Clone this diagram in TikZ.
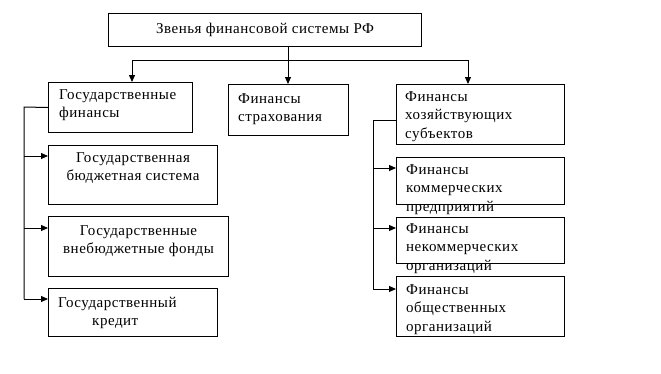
\documentclass[tikz,border=0pt]{standalone}
\usepackage{fontspec}
\setmainfont[LetterSpace=3.5]{Liberation Serif}
\usetikzlibrary{positioning,arrows.meta}

\begin{document}
\begin{tikzpicture}[
    x=1pt, y=-1pt,
    box/.style={
        draw,
        line width=1pt,
        anchor=north west,
        inner sep=0pt
    },
    txt/.style={
        inner sep=0pt,
        anchor=north west,
        align=left,
        font=\fontsize{15}{18.5}\selectfont
    },
    link/.style={line width=1pt},
    >={Triangle[width=6pt,length=7pt]}
]
\useasboundingbox (0,0) rectangle (661,373);

% top level
\node[box, minimum width=313pt, minimum height=33pt,
      font=\fontsize{15}{18.5}\selectfont] (zvenya) at (108,13)
    {Звенья финансовой системы РФ};

% second level
\node[box, minimum width=144pt, minimum height=50pt] (gosfin) at (48,82) {};
\node[box, minimum width=120pt, minimum height=51pt] (strah) at (228,84) {};
\node[box, minimum width=168pt, minimum height=60pt] (hozsub) at (396,84) {};

\node[txt, below right=7pt and 11pt of gosfin.north west] (gosfin-t)
    {Государственные\\финансы};
\node[txt, below right=9pt and 10pt of strah.north west] (strah-t)
    {Финансы\\страхования};
\node[txt, below right=7pt and 9pt of hozsub.north west] (hozsub-t)
    {Финансы\\хозяйствующих\\субъектов};

% state finances
\node[box, minimum width=169pt, minimum height=59pt] (budsys) at (48,145) {};
\node[box, minimum width=180pt, minimum height=60pt] (vnebud) at (48,216) {};
\node[box, minimum width=169pt, minimum height=48pt] (goskred) at (48,288) {};

\node[txt, anchor=north, align=center, below=7pt of budsys.north] (budsys-t)
    {Государственная\\бюджетная система};
\node[txt, anchor=north, align=center, below=9pt of vnebud.north] (vnebud-t)
    {Государственные\\внебюджетные фонды};
\node[txt, below right=9pt and 10pt of goskred.north west] (goskred-t)
    {Государственный\\\hspace*{34pt}кредит};

% business entities
\node[box, minimum width=168pt, minimum height=47pt] (kommerch) at (396,157) {};
\node[box, minimum width=168pt, minimum height=46pt] (nekommerch) at (396,217) {};
\node[box, minimum width=168pt, minimum height=60pt] (obshch) at (396,276) {};

\node[txt, below right=7pt and 10pt of kommerch.north west] (kommerch-t)
    {Финансы\\коммерческих\\предприятий};
\node[txt, below right=6pt and 10pt of nekommerch.north west] (nekommerch-t)
    {Финансы\\некоммерческих\\организаций};
\node[txt, below right=8pt and 10pt of obshch.north west] (obshch-t)
    {Финансы\\общественных\\организаций};

% connectors
\coordinate (split) at (288,60);
\coordinate (busl) at (132,60);
\coordinate (busr) at (468,60);
\draw[link] (zvenya.south -| split) -- (split);
\draw[link] (busl) -- (busr);
\draw[link,->] (busl) -- (busl |- gosfin.north);
\draw[link,->] (split) -- (split |- strah.north);
\draw[link,->] (busr) -- (busr |- hozsub.north);

\coordinate (trunkl) at (24,107);
\draw[link] (gosfin.west) -- (trunkl) -- (24,299);
\foreach \n/\y in {budsys/156, vnebud/228, goskred/299}
    \draw[link,->] (24,\y) -- (\n.west |- 0,\y);

\coordinate (trunkr) at (373,120);
\draw[link] (hozsub.west |- trunkr) -- (trunkr) -- (373,289);
\foreach \n/\y in {kommerch/168, nekommerch/228, obshch/289}
    \draw[link,->] (373,\y) -- (\n.west |- 0,\y);
\end{tikzpicture}
\end{document}
